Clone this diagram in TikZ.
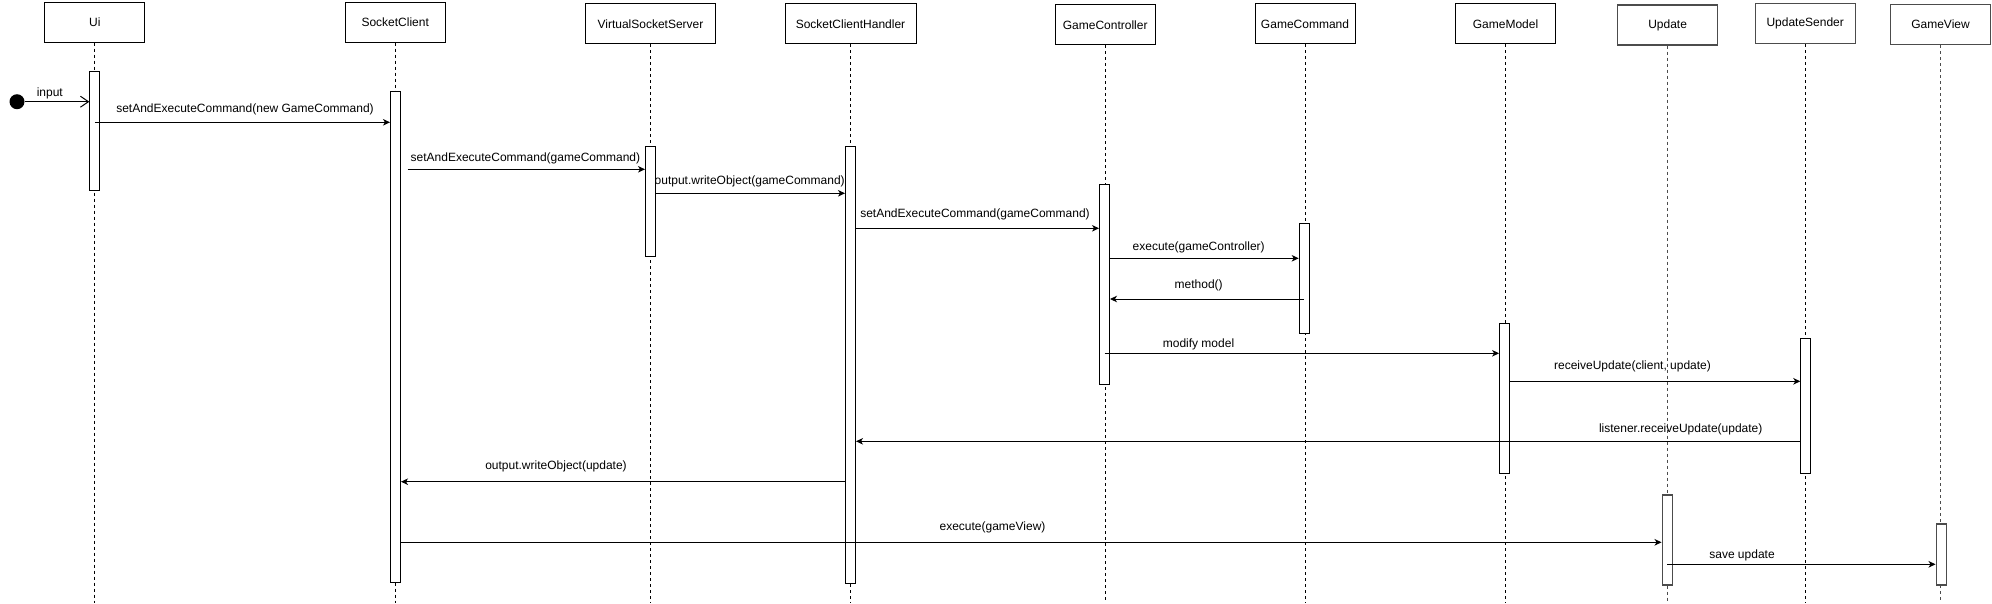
\documentclass[tikz,border=0pt]{standalone}
\usepackage{fontspec}
\setmainfont{Liberation Sans}
\usetikzlibrary{arrows.meta,calc}
\tikzset{
  hdr/.style={draw=black, line width=1pt, fill=white, minimum width=100pt, minimum height=40pt, inner sep=0pt, anchor=north},
  act/.style={draw=black, line width=1pt, fill=white, minimum width=10pt, inner sep=0pt, anchor=north},
  life/.style={draw=black, line width=1pt, dash pattern=on 3pt off 3pt},
  msg/.style={draw=black, line width=1pt, -{Stealth[length=7pt,width=6.5pt,inset=2pt]}},
  openmsg/.style={draw=black, line width=1pt, -{Straight Barb[length=8pt,width=11pt]}},
  lbl/.style={inner sep=0pt, text height=8.6pt, text depth=0pt, anchor=center},
  grayb/.style={draw=black!70, line width=1.3pt}
}
\newcommand\actv[5][]{\node[act,#1, minimum height={#5-#4}] (#2) at (#3,#4) {};}
\begin{document}
\begin{tikzpicture}[x=1pt,y=-1pt,font=\fontsize{12}{14}\selectfont]
\useasboundingbox (0,0) rectangle (1992,603);
% header boxes
\node[hdr] (ui)  at (94.8,1.5) {Ui};
\node[hdr] (sc)  at (395.2,1.7) {SocketClient};
\node[hdr, minimum width=130pt] (vss) at (650.5,3.3) {VirtualSocketServer};
\node[hdr, minimum width=131pt] (sch) at (850.5,3.3) {SocketClientHandler};
\node[hdr] (gc)  at (1105.2,4.3) {GameController};
\node[hdr] (gcm) at (1305,3.3) {GameCommand};
\node[hdr] (gm)  at (1505.5,3.3) {GameModel};
\node[hdr,grayb] (upd) at (1667.6,4.3) {Update};
\node[hdr,grayb] (us)  at (1805.2,2.7) {UpdateSender};
\node[hdr,grayb] (gv)  at (1940.5,4) {GameView};
% lifelines
\foreach \n in {ui,sc,vss,sch,gc,gcm,gm,us}
  \draw[life] (\n.south) -- (\n.south |- 0,603);
\foreach \n in {upd,gv}
  \draw[life,draw=black!70] (\n.south) -- (\n.south |- 0,603);
% activations
\actv{uiA}{94.8}{70.7}{190}
\actv{scA}{395.5}{91}{581.7}
\actv{vssA}{650.5}{145.7}{256}
\actv{schA}{850.5}{145.7}{583.3}
\actv{gcA}{1104.5}{184.3}{384.3}
\actv{gcmA}{1304.2}{223.3}{333.3}
\actv{gmA}{1504.6}{323.3}{473.3}
\actv{usA}{1805.8}{338.3}{472.7}
\actv[grayb]{updA}{1667.2}{494.3}{584.3}
\actv[grayb]{gvA}{1941.2}{523.3}{584.3}
% input
\node[circle, fill=black, inner sep=0pt, minimum size=15pt] (start) at (17,101.7) {};
\coordinate (inEnd) at (uiA.west |- 0,101.7);
\draw[openmsg] (start) -- (inEnd);
\node[lbl] (linput) at (49.8,91.7) {input};
% messages
\draw[msg] (uiA.center |- 0,122.3) -- (scA.west |- 0,122.3);
\node[lbl] (l1) at (245,108.3) {setAndExecuteCommand(new GameCommand)};
\draw[msg] ($(scA.east |- 0,169.3)+(6.5,0)$) -- (vssA.west |- 0,169.3);
\node[lbl] (l2) at (525.4,156.7) {setAndExecuteCommand(gameCommand)};
\draw[msg] (vssA.east |- 0,193.3) -- (schA.west |- 0,193.3);
\node[lbl] (l3) at (749.7,180) {output.writeObject(gameCommand)};
\draw[msg] (schA.east |- 0,228.3) -- (gcA.west |- 0,228.3);
\node[lbl] (l4) at (975,212.7) {setAndExecuteCommand(gameCommand)};
\draw[msg] (gcA.east |- 0,258.3) -- (gcmA.west |- 0,258.3);
\node[lbl] (l5) at (1198.7,246) {execute(gameController)};
\draw[msg] (gcmA.center |- 0,299) -- (gcA.east |- 0,299);
\node[lbl] (l6) at (1198.7,284) {method()};
\draw[msg] (gcA.center |- 0,353.3) -- (gmA.west |- 0,353.3);
\node[lbl] (l7) at (1198.5,343.3) {modify model};
\draw[msg] (gmA.east |- 0,381.3) -- (usA.west |- 0,381.3);
\node[lbl] (l8) at (1632.5,365) {receiveUpdate(client, update)};
\draw[msg] (usA.west |- 0,441.3) -- (schA.east |- 0,441.3);
\node[lbl] (l9) at (1680.7,428.3) {listener.receiveUpdate(update)};
\draw[msg] (schA.west |- 0,481.7) -- (scA.east |- 0,481.7);
\node[lbl] (l10) at (556,465) {output.writeObject(update)};
\draw[msg] (scA.east |- 0,542.3) -- (updA.west |- 0,542.3);
\node[lbl] (l11) at (992.5,526) {execute(gameView)};
\draw[msg] (updA.center |- 0,564.3) -- (gvA.west |- 0,564.3);
\node[lbl] (l12) at (1742,554.3) {save update};
\end{tikzpicture}
\end{document}
